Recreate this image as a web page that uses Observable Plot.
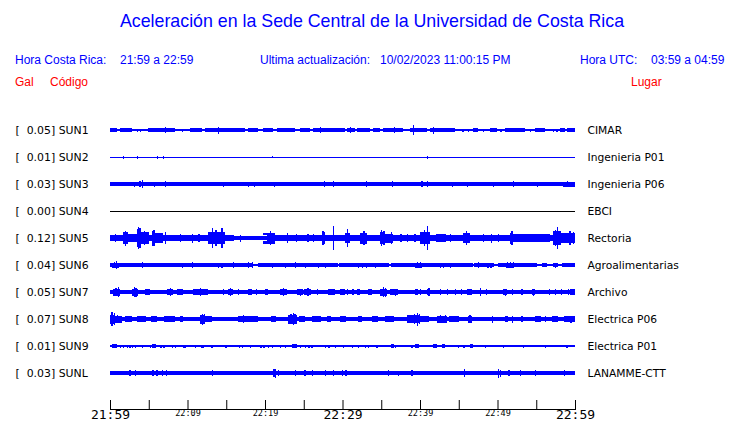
<!DOCTYPE html>
<html><head><meta charset="utf-8">
<script src="https://cdn.jsdelivr.net/npm/d3@7"></script>
<script src="https://cdn.jsdelivr.net/npm/@observablehq/plot@0.6"></script>
<style>
body{margin:0;background:#fff;}
#wrap{position:relative;width:740px;height:423px;overflow:hidden;font-family:"Liberation Sans",Arial,sans-serif;background:#fff;}
.h{position:absolute;white-space:pre;line-height:1;font-size:12px;}
.b{color:#0000ff;}
.r{color:#ff0000;}
#plot{position:absolute;left:0;top:0;}
</style></head><body>
<div id="wrap">
  <div class="h b" style="left:2px;width:740px;text-align:center;top:13px;font-size:17.8px;">Aceleración en la Sede Central de la Universidad de Costa Rica</div>
  <div class="h b" style="left:15px;top:54px;">Hora Costa Rica:</div>
  <div class="h b" style="left:120px;top:54px;">21:59 a 22:59</div>
  <div class="h b" style="left:260px;top:54px;">Ultima actualización:</div>
  <div class="h b" style="left:380px;top:54px;">10/02/2023 11:00:15 PM</div>
  <div class="h b" style="left:580px;top:54px;">Hora UTC:</div>
  <div class="h b" style="left:651px;top:54px;">03:59 a 04:59</div>
  <div class="h r" style="left:15px;top:76px;">Gal</div>
  <div class="h r" style="left:50px;top:76px;">Código</div>
  <div class="h r" style="left:631px;top:76px;">Lugar</div>
  <div id="plot"></div>
</div>
<script>
// ---- data ----
const stations = ["SUN1","SUN2","SUN3","SUN4","SUN5","SUN6","SUN7","SUN8","SUN9","SUNL"];
const galMax = [0.05,0.01,0.03,0.00,0.12,0.04,0.05,0.07,0.01,0.03];
const places = ["CIMAR","Ingenieria P01","Ingenieria P06","EBCI","Rectoria","Agroalimentarias","Archivo","Electrica P06","Electrica P01","LANAMME-CTT"];
// background half-amplitude of each trace (display units)
const baseAmp = [0.6,0.5,2,0.5,3,0.8,2,2,0.6,1.8];
// minutes after 21:59
const tickMinutes = [0,5,10,15,20,25,30,35,40,45,50,55,60];
const majorMinutes = [0,30,60];
const majorLabels = ["21:59","22:29","22:59"];
const minorMinutes = [10,20,40,50];
const minorLabels = ["22:09","22:19","22:39","22:49"];

// segments: [start minute, end minute, half-amplitude]  (negative = quieter stretch)
const sun1Seg = [[0,0.9,1.7],[1.3,2.8,1.7],[4.9,8.4,1.7],[10.3,11.9,1.7],[12.3,17.4,1.7],[17.8,19.1,1.7],[19.7,21.0,1.7],[21.5,23.9,1.7],[24.5,25.8,1.7],[26.2,30.3,1.7],[30.6,31.6,1.7],[31.9,33.5,1.7],[33.9,34.8,1.7],[35.2,37.8,1.7],[38.7,40.9,1.7],[41.3,44.5,1.7],[46.8,47.5,1.7],[49.0,49.9,1.7],[51.0,53.5,1.7],[54.8,56.1,1.7],[58.1,58.7,1.7],[59.0,60,1.7]];
const sun2Seg = [];
const sun3Seg = [[58.5,60,2.5]];
const sun4Seg = [];
const sun5Seg = [[16.0,20.3,-0.8],[51.6,56.8,3.8],[1.7,2.3,6],[2.3,4.9,4],[3.5,3.9,9],[4.0,5.0,6],[5.4,5.8,7.5],[5.8,6.8,5],[12.6,14.8,6],[19.8,21.3,5.5],[27.3,27.8,6],[30.3,31.0,5],[32.2,33.2,5.5],[34.8,35.5,6],[35.5,36.5,4.5],[40.0,41.3,6],[42.0,43.3,4],[45.5,46.4,5],[51.6,52.0,5.5],[57.2,58.2,7],[58.2,60,5]];
const sun6Seg = [[0,18.4,1.9],[19.1,29.4,1.9],[29.6,36.0,1.9],[36.3,46.8,1.9],[47.0,49.5,1.9],[50.0,55.1,1.9],[55.8,56.4,1.9],[57.1,57.8,1.9],[58.3,60,1.9],[0.2,1.2,2.5],[13.8,14.6,2.3],[31.8,33.2,2.3],[39.4,40.2,2.5],[51.1,52.1,2.5]];
const sun7Seg = [[0.4,1.3,3.5],[2.8,3.6,3.5],[4.5,5.2,3],[7.4,8.1,3.2],[8.6,9.4,2.8],[10.7,12.6,2.8],[15.2,15.9,3.2],[17.8,18.3,2.7],[20.0,20.4,2.7],[21.9,22.8,3.2],[24.1,24.9,3],[25.0,25.9,3.2],[28.1,29.0,2.8],[29.7,30.3,2.8],[31.9,32.3,3],[33.3,33.8,2.8],[34.8,35.7,3.5],[36.1,37.2,3],[39.3,39.7,2.8],[40.9,41.3,3.2],[46.1,46.7,3],[50.7,51.2,3],[54.4,54.8,3],[59.4,60,2.8]];
const sun8Seg = [[0,0.7,4.5],[0.6,1.5,3.5],[1.9,2.8,2.8],[3.5,4.6,2.8],[5.3,6.0,2.8],[7.0,8.4,3.2],[9.0,9.4,2.8],[11.6,12.3,4.5],[12.3,13.2,2.8],[16.5,18.3,3.2],[18.3,19.1,2.8],[20.8,21.4,3.2],[23.0,24.1,4.5],[24.4,25.1,2.8],[26.0,27.2,2.8],[28.0,28.5,2.8],[29.7,30.5,2.8],[32.0,32.5,2.8],[33.8,34.6,3.2],[35.5,36.6,2.8],[38.3,40.0,4],[40.0,41.2,3.2],[42.2,43.5,3.5],[43.8,45.0,2.8],[46.2,46.7,3.5],[51.0,51.4,2.8],[54.8,55.6,2.8],[57.0,57.8,2.8],[58.6,60,3]];
const sun9Seg = [[0.3,0.9,1.6],[5.4,5.9,1.6],[23.5,24.1,1.6],[36.3,36.6,1.6],[39.3,39.9,1.6],[41.7,42.2,1.6],[42.8,43.2,1.6],[46.4,46.8,1.6]];
const sunLSeg = [];

// spikes: [minute, half-amplitude]
const sun1Spk = [[3.5,1.5],[3.9,1.5],[7.1,2.8],[9.3,1.5],[13.9,3.5],[27.1,3],[31.0,3],[36.6,3],[39.1,5],[41.7,3.5],[45.5,1.5],[46.2,1.5],[48.1,1.5],[50.4,1.5],[54.2,1.5],[57.2,1.5],[57.6,1.5]];
const sun2Spk = [[1.7,1.5],[3.5,1.5],[6.1,1.5],[6.8,1.5],[20.9,1.3],[40.9,1.5]];
const sun3Spk = [[3.1,2.5],[3.7,3],[3.9,3],[4.1,4],[5.7,2.5],[7.1,3],[14.6,2.5],[17.8,2.5],[18.6,2.5],[21.2,2.5],[27.6,3],[28.8,3],[33.0,3],[36.4,3],[40.2,3],[40.9,3],[44.1,2.5],[46.1,2.5],[49.4,2.5],[52.0,3],[55.1,2.5],[59.0,3]];
const sun4Spk = [];
const sun5Spk = [[0.6,4],[1.9,7.5],[3.6,11],[3.8,10],[4.4,7],[5.6,8],[7.1,6],[9.0,4],[10.6,4.5],[11.4,4],[13.2,10],[13.6,8],[14.4,10],[16.8,3.5],[20.6,7],[22.8,5],[24.0,4],[25.5,4],[26.2,4],[27.4,7],[28.8,12],[30.6,9],[32.7,7],[35.0,8],[35.3,7],[36.3,6],[37.5,4],[38.3,4],[39.3,4],[40.5,8],[40.9,12],[43.9,4],[45.9,7],[48.1,4],[49.2,4.5],[50.1,4],[51.8,7],[53.7,4],[55.5,4],[57.4,8],[57.7,11],[59.3,7],[59.7,6]];
const sun6Spk = [[0.5,3],[0.8,4],[4.1,3],[9.3,2.5],[10.6,3],[13.9,2.5],[14.4,2.5],[15.9,3],[17.8,3],[18.3,3],[20.9,2.5],[22.6,2.5],[23.9,3],[25.2,2.5],[26.8,2.5],[27.7,2.5],[32.0,2.5],[32.5,2.5],[33.0,2.5],[34.2,2.5],[39.6,3],[40.0,3],[42.6,2.5],[43.0,2.5],[43.9,2.5],[47.5,3],[48.7,2.5],[49.1,2.5],[51.2,3],[51.6,3],[52.0,3],[57.4,2.5]];
const sun7Spk = [[0.7,4],[1.0,5],[3.1,5],[3.3,4.5],[7.7,4],[11.6,4],[14.6,3],[15.5,4],[16.5,3],[18.8,3],[22.3,4],[24.5,3.5],[25.5,4],[26.7,3],[30.6,3],[31.3,3],[35.2,5],[35.5,4.5],[36.8,3.5],[40.0,3],[41.1,4],[42.6,3],[43.5,3],[44.5,3],[45.3,3],[47.7,4],[48.5,3],[51.0,3.5],[51.9,3],[53.1,3],[54.6,3.5],[56.6,3],[57.4,3],[58.2,3],[59.1,3]];
const sun8Spk = [[0.2,7],[0.5,6],[0.9,4],[11.9,5.5],[12.1,5],[17.2,4],[23.3,5],[23.6,6],[23.8,5],[39.2,5],[39.6,6.5],[39.9,5],[42.6,4],[43.2,4],[46.4,4],[49.3,3.5],[51.9,3.5],[53.1,3],[56.1,3],[59.4,3.5]];
const sun9Spk = [[1.3,1.5],[1.7,1.5],[2.2,1.5],[2.5,1.5],[2.8,1.5],[3.2,1.5],[4.1,1.5],[5.2,1.5],[6.5,1.5],[6.9,1.5],[8.0,1.5],[8.4,1.5],[9.5,1.5],[9.7,1.5],[11.0,1.5],[11.8,1.5],[12.0,1.5],[13.1,1.5],[14.9,1.5],[16.6,1.5],[17.0,1.5],[18.1,1.5],[19.4,1.5],[19.8,1.5],[20.4,1.5],[20.9,1.5],[21.9,1.5],[22.6,1.5],[24.5,1.5],[25.2,1.5],[25.6,1.5],[26.0,1.5],[27.7,1.5],[28.2,1.5],[29.0,1.5],[30.1,1.5],[31.2,1.5],[32.0,1.5],[32.9,1.5],[33.3,1.5],[34.4,1.5],[36.8,1.5],[38.9,1.5],[44.9,1.5],[45.6,1.5],[48.4,1.5],[50.7,1.5],[53.3,1.5],[56.1,1.5],[58.9,1.5]];
const sunLSpk = [[2.5,3],[3.2,3],[5.5,3],[6.0,3],[6.7,3],[7.2,3],[13.2,3],[21.1,4],[21.3,4.5],[21.7,3],[23.9,3],[25.1,3],[26.1,3],[27.7,3],[28.8,3],[29.9,3],[30.4,3],[35.9,3],[37.2,2.5],[38.9,3],[45.7,4],[50.1,4.5],[50.3,3.5],[51.4,3],[52.9,3],[54.8,3],[58.6,3]];

// ---- build ----
const segLists = [sun1Seg,sun2Seg,sun3Seg,sun4Seg,sun5Seg,sun6Seg,sun7Seg,sun8Seg,sun9Seg,sunLSeg];
const spkLists = [sun1Spk,sun2Spk,sun3Spk,sun4Spk,sun5Spk,sun6Spk,sun7Spk,sun8Spk,sun9Spk,sunLSpk];
const ROW = 27;
const BLUE = "#0000ff";
const colorOf = i => galMax[i] === 0 ? "#000000" : BLUE;

const segs = [];
const whites = [];
stations.forEach((s, i) => {
  segs.push({row: i, t0: 0, t1: 60, a: baseAmp[i]});
  segLists[i].forEach(([t0, t1, a]) => {
    if (a < 0) { whites.push({row: i, t0, t1, a: baseAmp[i], b: baseAmp[i] + a}); }
    else segs.push({row: i, t0, t1, a});
  });
});
const spikes = [];
stations.forEach((s, i) => spkLists[i].forEach(([t, a]) => spikes.push({row: i, t, a})));

const chart = Plot.plot({
  width: 740,
  height: 423,
  marginLeft: 110,
  marginRight: 165,
  marginTop: 100,
  marginBottom: 14,
  style: {background: "transparent", overflow: "visible"},
  x: {domain: [0, 60], axis: null},
  y: {domain: [0, 9 * ROW], range: [130, 373], axis: null},
  color: {type: "identity"},
  marks: [
    Plot.rect(segs, {x1: "t0", x2: "t1", y1: d => d.row * ROW - d.a, y2: d => d.row * ROW + d.a, fill: d => colorOf(d.row), shapeRendering: "crispEdges"}),
    Plot.rect(whites, {x1: "t0", x2: "t1", y1: d => d.row * ROW - d.a, y2: d => d.row * ROW - d.b, fill: "#fff", shapeRendering: "crispEdges"}),
    Plot.rect(whites, {x1: "t0", x2: "t1", y1: d => d.row * ROW + d.b, y2: d => d.row * ROW + d.a, fill: "#fff", shapeRendering: "crispEdges"}),
    Plot.ruleX(spikes, {x: "t", y1: d => d.row * ROW - d.a, y2: d => d.row * ROW + d.a, stroke: d => colorOf(d.row), strokeWidth: 1.3, shapeRendering: "crispEdges"}),
    Plot.text(stations, {y: (d, i) => i * ROW, text: (d, i) => `[\u00a0\u00a0${galMax[i].toFixed(2)}] ${d}`, frameAnchor: "left", dx: -95, textAnchor: "start", fontFamily: "DejaVu Sans", fontSize: 10.9, fill: "#000"}),
    Plot.text(places, {y: (d, i) => i * ROW, text: d => d, frameAnchor: "right", dx: 12, textAnchor: "start", fontFamily: "DejaVu Sans", fontSize: 10.7, fill: "#000"}),
    Plot.frame({anchor: "bottom", stroke: "#000"}),
    Plot.ruleX(tickMinutes, {x: d => d, insetTop: 300, stroke: "#000"}),
    Plot.text(majorMinutes, {x: d => d, text: (d, i) => majorLabels[i], frameAnchor: "bottom", dy: 9, fontFamily: "DejaVu Sans Mono", fontSize: 13, fill: "#000"}),
    Plot.text(minorMinutes, {x: d => d, text: (d, i) => minorLabels[i], frameAnchor: "bottom", dy: 6, fontFamily: "DejaVu Sans Mono", fontSize: 8.5, fill: "#000"})
  ]
});
document.getElementById("plot").appendChild(chart);
</script>
</body></html>
